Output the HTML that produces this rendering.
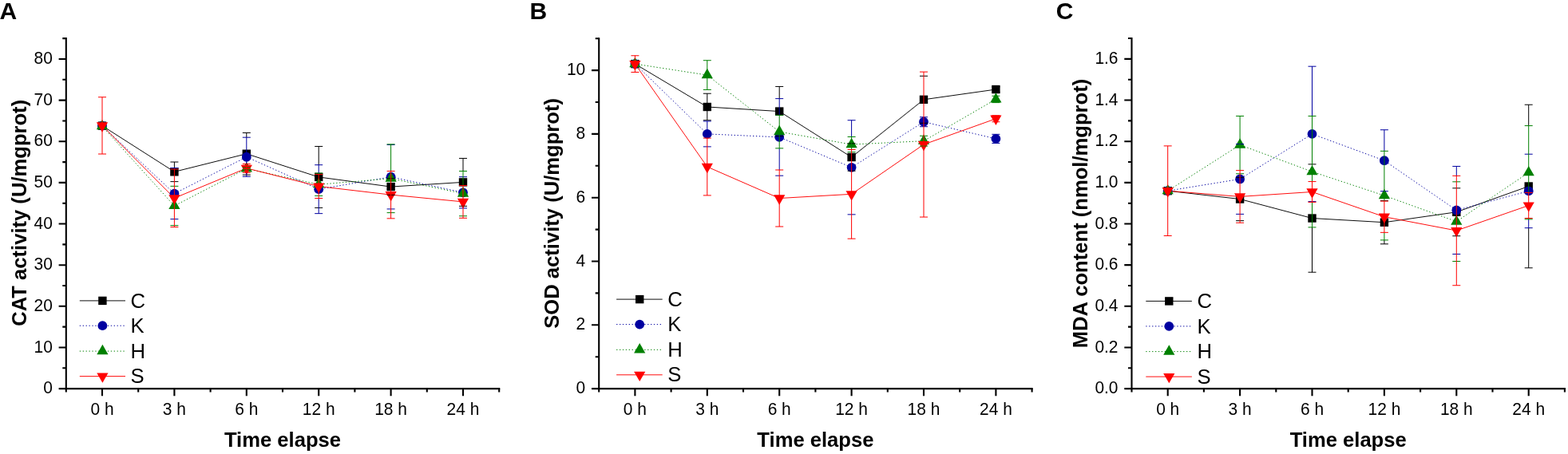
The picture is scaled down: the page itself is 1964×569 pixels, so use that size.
<!DOCTYPE html>
<html><head><meta charset="utf-8"><title>Figure</title>
<style>
html,body{margin:0;padding:0;background:#fff;}
svg{display:block;}
text{font-family:"Liberation Sans",Arial,sans-serif;fill:#000;}
.tl{font-size:22.3px;}
.tt{font-size:25.6px;font-weight:bold;}
.pl{font-size:30px;font-weight:bold;}
.lg{font-size:25.7px;}
</style></head><body>
<svg width="1964" height="569" viewBox="0 0 1964 569">
<rect width="1964" height="569" fill="#fff"/>
<g>
<text class="pl" x="-0.6" y="23.8">A</text>
<g stroke="#000" stroke-width="2.1" stroke-linecap="square" fill="none">
<path d="M82.8 48.16V487.1H625.2"/>
<path stroke-linecap="butt" d="M82.8 487.1H73.6M82.8 461.28H78.3M82.8 435.46H73.6M82.8 409.64H78.3M82.8 383.82H73.6M82.8 358H78.3M82.8 332.18H73.6M82.8 306.36H78.3M82.8 280.54H73.6M82.8 254.72H78.3M82.8 228.9H73.6M82.8 203.08H78.3M82.8 177.26H73.6M82.8 151.44H78.3M82.8 125.62H73.6M82.8 99.8H78.3M82.8 73.98H73.6M82.8 48.16H78.3M82.8 487.1V491.6M173.2 487.1V491.6M263.6 487.1V491.6M354 487.1V491.6M444.4 487.1V491.6M534.8 487.1V491.6M625.2 487.1V491.6M128 487.1V496.3M218.4 487.1V496.3M308.8 487.1V496.3M399.2 487.1V496.3M489.6 487.1V496.3M580 487.1V496.3"/>
</g>
<text class="tl" transform="translate(65.8 493.2) scale(0.94 1)" text-anchor="end">0</text>
<text class="tl" transform="translate(65.8 441.56) scale(0.94 1)" text-anchor="end">10</text>
<text class="tl" transform="translate(65.8 389.92) scale(0.94 1)" text-anchor="end">20</text>
<text class="tl" transform="translate(65.8 338.28) scale(0.94 1)" text-anchor="end">30</text>
<text class="tl" transform="translate(65.8 286.64) scale(0.94 1)" text-anchor="end">40</text>
<text class="tl" transform="translate(65.8 235) scale(0.94 1)" text-anchor="end">50</text>
<text class="tl" transform="translate(65.8 183.36) scale(0.94 1)" text-anchor="end">60</text>
<text class="tl" transform="translate(65.8 131.72) scale(0.94 1)" text-anchor="end">70</text>
<text class="tl" transform="translate(65.8 80.08) scale(0.94 1)" text-anchor="end">80</text>
<text class="tl" transform="translate(128 519.6) scale(0.94 1)" text-anchor="middle">0 h</text>
<text class="tl" transform="translate(218.4 519.6) scale(0.94 1)" text-anchor="middle">3 h</text>
<text class="tl" transform="translate(308.8 519.6) scale(0.94 1)" text-anchor="middle">6 h</text>
<text class="tl" transform="translate(399.2 519.6) scale(0.94 1)" text-anchor="middle">12 h</text>
<text class="tl" transform="translate(489.6 519.6) scale(0.94 1)" text-anchor="middle">18 h</text>
<text class="tl" transform="translate(580 519.6) scale(0.94 1)" text-anchor="middle">24 h</text>
<text class="tt" x="354" y="560.2" text-anchor="middle">Time elapse</text>
<text class="tt" text-anchor="middle" transform="translate(33.2 266.8) rotate(-90)">CAT activity (U/mgprot)</text>
<polyline points="128,157.64 218.4,215.32 308.8,192.75 399.2,221.93 489.6,234.06 580,228.38" stroke="#000000" stroke-width="0.95" fill="none"/>
<polyline points="128,157.64 218.4,242.58 308.8,196.73 399.2,237.16 489.6,221.67 580,241.29" stroke="#0000a0" stroke-width="1" stroke-dasharray="1.3 2.6" fill="none"/>
<polyline points="128,158.15 218.4,257.97 308.8,211.34 399.2,231.22 489.6,223.74 580,242.58" stroke="#008000" stroke-width="1" stroke-dasharray="1.3 2.6" fill="none"/>
<polyline points="128,157.38 218.4,248.27 308.8,210.83 399.2,233.55 489.6,244.13 580,252.91" stroke="#ff0000" stroke-width="0.95" fill="none"/>
<rect x="122.8" y="152.44" width="10.4" height="10.4" fill="#000000"/>
<rect x="213.2" y="210.12" width="10.4" height="10.4" fill="#000000"/>
<rect x="303.6" y="187.55" width="10.4" height="10.4" fill="#000000"/>
<rect x="394" y="216.73" width="10.4" height="10.4" fill="#000000"/>
<rect x="484.4" y="228.86" width="10.4" height="10.4" fill="#000000"/>
<rect x="574.8" y="223.18" width="10.4" height="10.4" fill="#000000"/>
<circle cx="128" cy="157.64" r="5.9" fill="#0000a0"/>
<circle cx="218.4" cy="242.58" r="5.9" fill="#0000a0"/>
<circle cx="308.8" cy="196.73" r="5.9" fill="#0000a0"/>
<circle cx="399.2" cy="237.16" r="5.9" fill="#0000a0"/>
<circle cx="489.6" cy="221.67" r="5.9" fill="#0000a0"/>
<circle cx="580" cy="241.29" r="5.9" fill="#0000a0"/>
<polygon points="128,149.89 135.1,162.29 120.9,162.29" fill="#008000"/>
<polygon points="218.4,249.71 225.5,262.11 211.3,262.11" fill="#008000"/>
<polygon points="308.8,203.08 315.9,215.48 301.7,215.48" fill="#008000"/>
<polygon points="399.2,222.96 406.3,235.36 392.1,235.36" fill="#008000"/>
<polygon points="489.6,215.47 496.7,227.87 482.5,227.87" fill="#008000"/>
<polygon points="580,234.32 587.1,246.72 572.9,246.72" fill="#008000"/>
<polygon points="120.9,153.25 135.1,153.25 128,165.65" fill="#ff0000"/>
<polygon points="211.3,244.13 225.5,244.13 218.4,256.53" fill="#ff0000"/>
<polygon points="301.7,206.69 315.9,206.69 308.8,219.09" fill="#ff0000"/>
<polygon points="392.1,229.41 406.3,229.41 399.2,241.81" fill="#ff0000"/>
<polygon points="482.5,240 496.7,240 489.6,252.4" fill="#ff0000"/>
<polygon points="572.9,248.78 587.1,248.78 580,261.18" fill="#ff0000"/>
<path d="M218.4 203.03V210.57M213.4 203.03H223.4M213.4 227.61H223.4M308.8 166.42V172.2M303.8 166.42H313.8M303.8 219.09H313.8M399.2 183.46V206.69M394.2 183.46H404.2M394.2 260.4H404.2M484.6 223.74H494.6M484.6 244.39H494.6M580 198.43V214.44M575 198.43H585M575 258.33H585" stroke="#000000" stroke-width="1.0" fill="none"/>
<path d="M218.4 210.57V211.96M213.4 210.57H223.4M213.4 274.6H223.4M308.8 172.2V205.4M308.8 216.25V221.26M303.8 172.2H313.8M303.8 221.26H313.8M399.2 206.69V217.02M399.2 248.52V267.63M394.2 206.69H404.2M394.2 267.63H404.2M484.6 181.39H494.6M484.6 261.95H494.6M575 221.67H585M575 260.92H585" stroke="#0000a0" stroke-width="1.0" fill="none"/>
<path d="M213.4 233.34H223.4M213.4 282.61H223.4M303.8 209.95H313.8M303.8 212.74H313.8M399.2 217.02V218.57M394.2 217.02H404.2M394.2 245.42H404.2M489.6 180.87V214.44M484.6 180.87H494.6M484.6 266.6H494.6M580 214.44V232.51M575 214.44H585M575 270.73H585" stroke="#008000" stroke-width="1.0" fill="none"/>
<path d="M128 121.75V193.01M123 121.75H133M123 193.01H133M218.4 211.96V284.57M213.4 211.96H223.4M213.4 284.57H223.4M308.8 205.4V216.25M303.8 205.4H313.8M303.8 216.25H313.8M399.2 218.57V248.52M394.2 218.57H404.2M394.2 248.52H404.2M489.6 214.44V273.83M484.6 214.44H494.6M484.6 273.83H494.6M580 232.51V273.31M575 232.51H585M575 273.31H585" stroke="#ff0000" stroke-width="1.0" fill="none"/>
<line x1="99.8" y1="376.9" x2="157" y2="376.9" stroke="#000000" stroke-width="0.95" fill="none"/>
<rect x="123.2" y="371.7" width="10.4" height="10.4" fill="#000000"/>
<text class="lg" x="163.5" y="385.5">C</text>
<line x1="99.8" y1="408.2" x2="157" y2="408.2" stroke="#0000a0" stroke-width="1" stroke-dasharray="1.3 2.6" fill="none"/>
<circle cx="128.4" cy="408.2" r="5.9" fill="#0000a0"/>
<text class="lg" x="163.5" y="416.8">K</text>
<line x1="99.8" y1="440.1" x2="157" y2="440.1" stroke="#008000" stroke-width="1" stroke-dasharray="1.3 2.6" fill="none"/>
<polygon points="128.4,431.83 135.5,444.23 121.3,444.23" fill="#008000"/>
<text class="lg" x="163.5" y="448.7">H</text>
<line x1="99.8" y1="471.6" x2="157" y2="471.6" stroke="#ff0000" stroke-width="0.95" fill="none"/>
<polygon points="121.3,467.47 135.5,467.47 128.4,479.87" fill="#ff0000"/>
<text class="lg" x="163.5" y="480.2">S</text>
</g>
<g>
<text class="pl" x="663.4" y="23.8">B</text>
<g stroke="#000" stroke-width="2.1" stroke-linecap="square" fill="none">
<path d="M750.2 48.2V487.1H1292.6"/>
<path stroke-linecap="butt" d="M750.2 487.1H741M750.2 447.2H745.7M750.2 407.3H741M750.2 367.4H745.7M750.2 327.5H741M750.2 287.6H745.7M750.2 247.7H741M750.2 207.8H745.7M750.2 167.9H741M750.2 128H745.7M750.2 88.1H741M750.2 48.2H745.7M750.2 487.1V491.6M840.6 487.1V491.6M931 487.1V491.6M1021.4 487.1V491.6M1111.8 487.1V491.6M1202.2 487.1V491.6M1292.6 487.1V491.6M795.4 487.1V496.3M885.8 487.1V496.3M976.2 487.1V496.3M1066.6 487.1V496.3M1157 487.1V496.3M1247.4 487.1V496.3"/>
</g>
<text class="tl" transform="translate(733.2 493.2) scale(0.94 1)" text-anchor="end">0</text>
<text class="tl" transform="translate(733.2 413.4) scale(0.94 1)" text-anchor="end">2</text>
<text class="tl" transform="translate(733.2 333.6) scale(0.94 1)" text-anchor="end">4</text>
<text class="tl" transform="translate(733.2 253.8) scale(0.94 1)" text-anchor="end">6</text>
<text class="tl" transform="translate(733.2 174) scale(0.94 1)" text-anchor="end">8</text>
<text class="tl" transform="translate(733.2 94.2) scale(0.94 1)" text-anchor="end">10</text>
<text class="tl" transform="translate(795.4 519.6) scale(0.94 1)" text-anchor="middle">0 h</text>
<text class="tl" transform="translate(885.8 519.6) scale(0.94 1)" text-anchor="middle">3 h</text>
<text class="tl" transform="translate(976.2 519.6) scale(0.94 1)" text-anchor="middle">6 h</text>
<text class="tl" transform="translate(1066.6 519.6) scale(0.94 1)" text-anchor="middle">12 h</text>
<text class="tl" transform="translate(1157 519.6) scale(0.94 1)" text-anchor="middle">18 h</text>
<text class="tl" transform="translate(1247.4 519.6) scale(0.94 1)" text-anchor="middle">24 h</text>
<text class="tt" x="1021.4" y="560.2" text-anchor="middle">Time elapse</text>
<text class="tt" text-anchor="middle" transform="translate(700.4 267.4) rotate(-90)">SOD activity (U/mgprot)</text>
<polyline points="795.4,80.12 885.8,133.99 976.2,139.57 1066.6,197.03 1157,124.81 1247.4,112.04" stroke="#000000" stroke-width="0.95" fill="none"/>
<polyline points="795.4,80.12 885.8,167.9 976.2,171.89 1066.6,209.8 1157,152.74 1247.4,173.89" stroke="#0000a0" stroke-width="1" stroke-dasharray="1.3 2.6" fill="none"/>
<polyline points="795.4,80.12 885.8,94.09 976.2,165.11 1066.6,181.07 1157,176.68 1247.4,124.41" stroke="#008000" stroke-width="1" stroke-dasharray="1.3 2.6" fill="none"/>
<polyline points="795.4,80.12 885.8,209 976.2,248.5 1066.6,243.31 1157,181.07 1247.4,148.75" stroke="#ff0000" stroke-width="0.95" fill="none"/>
<rect x="790.2" y="74.92" width="10.4" height="10.4" fill="#000000"/>
<rect x="880.6" y="128.79" width="10.4" height="10.4" fill="#000000"/>
<rect x="971" y="134.37" width="10.4" height="10.4" fill="#000000"/>
<rect x="1061.4" y="191.83" width="10.4" height="10.4" fill="#000000"/>
<rect x="1151.8" y="119.61" width="10.4" height="10.4" fill="#000000"/>
<rect x="1242.2" y="106.84" width="10.4" height="10.4" fill="#000000"/>
<circle cx="795.4" cy="80.12" r="5.9" fill="#0000a0"/>
<circle cx="885.8" cy="167.9" r="5.9" fill="#0000a0"/>
<circle cx="976.2" cy="171.89" r="5.9" fill="#0000a0"/>
<circle cx="1066.6" cy="209.8" r="5.9" fill="#0000a0"/>
<circle cx="1157" cy="152.74" r="5.9" fill="#0000a0"/>
<circle cx="1247.4" cy="173.89" r="5.9" fill="#0000a0"/>
<polygon points="795.4,71.85 802.5,84.25 788.3,84.25" fill="#008000"/>
<polygon points="885.8,85.82 892.9,98.22 878.7,98.22" fill="#008000"/>
<polygon points="976.2,156.84 983.3,169.24 969.1,169.24" fill="#008000"/>
<polygon points="1066.6,172.8 1073.7,185.2 1059.5,185.2" fill="#008000"/>
<polygon points="1157,168.41 1164.1,180.81 1149.9,180.81" fill="#008000"/>
<polygon points="1247.4,116.14 1254.5,128.54 1240.3,128.54" fill="#008000"/>
<polygon points="788.3,75.99 802.5,75.99 795.4,88.39" fill="#ff0000"/>
<polygon points="878.7,204.86 892.9,204.86 885.8,217.26" fill="#ff0000"/>
<polygon points="969.1,244.36 983.3,244.36 976.2,256.76" fill="#ff0000"/>
<polygon points="1059.5,239.18 1073.7,239.18 1066.6,251.58" fill="#ff0000"/>
<polygon points="1149.9,176.93 1164.1,176.93 1157,189.33" fill="#ff0000"/>
<polygon points="1240.3,144.61 1254.5,144.61 1247.4,157.01" fill="#ff0000"/>
<path d="M885.8 117.23V150.74M880.8 117.23H890.8M880.8 150.74H890.8M976.2 108.45V123.61M971.2 108.45H981.2M971.2 170.69H981.2M1061.6 179.87H1071.6M1061.6 214.18H1071.6M1152 95.28H1162M1152 154.33H1162M1247.4 108.85V115.23M1242.4 108.85H1252.4M1242.4 115.23H1252.4" stroke="#000000" stroke-width="1.0" fill="none"/>
<path d="M885.8 151.94V173.09M880.8 151.94H890.8M880.8 183.86H890.8M976.2 123.61V144.36M976.2 185.86V212.99M971.2 123.61H981.2M971.2 220.17H981.2M1066.6 150.74V171.49M1061.6 150.74H1071.6M1061.6 268.85H1071.6M1152 146.75H1162M1152 158.72H1162M1247.4 168.3V179.47M1242.4 168.3H1252.4M1242.4 179.47H1252.4" stroke="#0000a0" stroke-width="1.0" fill="none"/>
<path d="M885.8 75.73V112.44M880.8 75.73H890.8M880.8 112.44H890.8M976.2 144.36V185.86M971.2 144.36H981.2M971.2 185.86H981.2M1066.6 171.49V187.45M1061.6 171.49H1071.6M1061.6 190.64H1071.6M1152 170.29H1162M1152 183.06H1162M1247.4 120.22V128.6M1242.4 120.22H1252.4M1242.4 128.6H1252.4" stroke="#008000" stroke-width="1.0" fill="none"/>
<path d="M795.4 69.75V90.49M790.4 69.75H800.4M790.4 90.49H800.4M885.8 173.09V244.91M880.8 173.09H890.8M880.8 244.91H890.8M976.2 212.99V284.01M971.2 212.99H981.2M971.2 284.01H981.2M1066.6 187.45V299.17M1061.6 187.45H1071.6M1061.6 299.17H1071.6M1157 90.1V272.04M1152 90.1H1162M1152 272.04H1162M1247.4 144.76V152.74M1242.4 144.76H1252.4M1242.4 152.74H1252.4" stroke="#ff0000" stroke-width="1.0" fill="none"/>
<line x1="772.1" y1="375.1" x2="829.7" y2="375.1" stroke="#000000" stroke-width="0.95" fill="none"/>
<rect x="796" y="369.9" width="10.4" height="10.4" fill="#000000"/>
<text class="lg" x="836.2" y="383.7">C</text>
<line x1="772.1" y1="406.6" x2="829.7" y2="406.6" stroke="#0000a0" stroke-width="1" stroke-dasharray="1.3 2.6" fill="none"/>
<circle cx="801.2" cy="406.6" r="5.9" fill="#0000a0"/>
<text class="lg" x="836.2" y="415.2">K</text>
<line x1="772.1" y1="438.3" x2="829.7" y2="438.3" stroke="#008000" stroke-width="1" stroke-dasharray="1.3 2.6" fill="none"/>
<polygon points="801.2,430.03 808.3,442.43 794.1,442.43" fill="#008000"/>
<text class="lg" x="836.2" y="446.9">H</text>
<line x1="772.1" y1="469.8" x2="829.7" y2="469.8" stroke="#ff0000" stroke-width="0.95" fill="none"/>
<polygon points="794.1,465.67 808.3,465.67 801.2,478.07" fill="#ff0000"/>
<text class="lg" x="836.2" y="478.4">S</text>
</g>
<g>
<text class="pl" x="1322.7" y="23.8">C</text>
<g stroke="#000" stroke-width="2.1" stroke-linecap="square" fill="none">
<path d="M1417.5 48.08V487.1H1959.9"/>
<path stroke-linecap="butt" d="M1417.5 487.1H1408.3M1417.5 461.28H1413M1417.5 435.45H1408.3M1417.5 409.62H1413M1417.5 383.8H1408.3M1417.5 357.98H1413M1417.5 332.15H1408.3M1417.5 306.33H1413M1417.5 280.5H1408.3M1417.5 254.68H1413M1417.5 228.85H1408.3M1417.5 203.02H1413M1417.5 177.2H1408.3M1417.5 151.38H1413M1417.5 125.55H1408.3M1417.5 99.73H1413M1417.5 73.9H1408.3M1417.5 48.07H1413M1417.5 487.1V491.6M1507.9 487.1V491.6M1598.3 487.1V491.6M1688.7 487.1V491.6M1779.1 487.1V491.6M1869.5 487.1V491.6M1959.9 487.1V491.6M1462.7 487.1V496.3M1553.1 487.1V496.3M1643.5 487.1V496.3M1733.9 487.1V496.3M1824.3 487.1V496.3M1914.7 487.1V496.3"/>
</g>
<text class="tl" transform="translate(1400.5 493.2) scale(0.94 1)" text-anchor="end">0.0</text>
<text class="tl" transform="translate(1400.5 441.55) scale(0.94 1)" text-anchor="end">0.2</text>
<text class="tl" transform="translate(1400.5 389.9) scale(0.94 1)" text-anchor="end">0.4</text>
<text class="tl" transform="translate(1400.5 338.25) scale(0.94 1)" text-anchor="end">0.6</text>
<text class="tl" transform="translate(1400.5 286.6) scale(0.94 1)" text-anchor="end">0.8</text>
<text class="tl" transform="translate(1400.5 234.95) scale(0.94 1)" text-anchor="end">1.0</text>
<text class="tl" transform="translate(1400.5 183.3) scale(0.94 1)" text-anchor="end">1.2</text>
<text class="tl" transform="translate(1400.5 131.65) scale(0.94 1)" text-anchor="end">1.4</text>
<text class="tl" transform="translate(1400.5 80) scale(0.94 1)" text-anchor="end">1.6</text>
<text class="tl" transform="translate(1462.7 519.6) scale(0.94 1)" text-anchor="middle">0 h</text>
<text class="tl" transform="translate(1553.1 519.6) scale(0.94 1)" text-anchor="middle">3 h</text>
<text class="tl" transform="translate(1643.5 519.6) scale(0.94 1)" text-anchor="middle">6 h</text>
<text class="tl" transform="translate(1733.9 519.6) scale(0.94 1)" text-anchor="middle">12 h</text>
<text class="tl" transform="translate(1824.3 519.6) scale(0.94 1)" text-anchor="middle">18 h</text>
<text class="tl" transform="translate(1914.7 519.6) scale(0.94 1)" text-anchor="middle">24 h</text>
<text class="tt" x="1688.7" y="560.2" text-anchor="middle">Time elapse</text>
<text class="tt" text-anchor="middle" transform="translate(1361.8 267.5) rotate(-90)">MDA content (nmol/mgprot)</text>
<polyline points="1462.7,239.18 1553.1,249.51 1643.5,273.53 1733.9,278.69 1824.3,265.78 1914.7,233.5" stroke="#000000" stroke-width="0.95" fill="none"/>
<polyline points="1462.7,239.18 1553.1,224.46 1643.5,167.9 1733.9,201.22 1824.3,263.46 1914.7,239.44" stroke="#0000a0" stroke-width="1" stroke-dasharray="1.3 2.6" fill="none"/>
<polyline points="1462.7,239.18 1553.1,181.59 1643.5,215.16 1733.9,245.12 1824.3,277.66 1914.7,216.2" stroke="#008000" stroke-width="1" stroke-dasharray="1.3 2.6" fill="none"/>
<polyline points="1462.7,239.18 1553.1,246.41 1643.5,240.47 1733.9,271.72 1824.3,289.02 1914.7,257.52" stroke="#ff0000" stroke-width="0.95" fill="none"/>
<rect x="1457.5" y="233.98" width="10.4" height="10.4" fill="#000000"/>
<rect x="1547.9" y="244.31" width="10.4" height="10.4" fill="#000000"/>
<rect x="1638.3" y="268.33" width="10.4" height="10.4" fill="#000000"/>
<rect x="1728.7" y="273.49" width="10.4" height="10.4" fill="#000000"/>
<rect x="1819.1" y="260.58" width="10.4" height="10.4" fill="#000000"/>
<rect x="1909.5" y="228.3" width="10.4" height="10.4" fill="#000000"/>
<circle cx="1462.7" cy="239.18" r="5.9" fill="#0000a0"/>
<circle cx="1553.1" cy="224.46" r="5.9" fill="#0000a0"/>
<circle cx="1643.5" cy="167.9" r="5.9" fill="#0000a0"/>
<circle cx="1733.9" cy="201.22" r="5.9" fill="#0000a0"/>
<circle cx="1824.3" cy="263.46" r="5.9" fill="#0000a0"/>
<circle cx="1914.7" cy="239.44" r="5.9" fill="#0000a0"/>
<polygon points="1462.7,230.91 1469.8,243.31 1455.6,243.31" fill="#008000"/>
<polygon points="1553.1,173.32 1560.2,185.72 1546,185.72" fill="#008000"/>
<polygon points="1643.5,206.9 1650.6,219.3 1636.4,219.3" fill="#008000"/>
<polygon points="1733.9,236.85 1741,249.25 1726.8,249.25" fill="#008000"/>
<polygon points="1824.3,269.39 1831.4,281.79 1817.2,281.79" fill="#008000"/>
<polygon points="1914.7,207.93 1921.8,220.33 1907.6,220.33" fill="#008000"/>
<polygon points="1455.6,235.05 1469.8,235.05 1462.7,247.45" fill="#ff0000"/>
<polygon points="1546,242.28 1560.2,242.28 1553.1,254.68" fill="#ff0000"/>
<polygon points="1636.4,236.34 1650.6,236.34 1643.5,248.74" fill="#ff0000"/>
<polygon points="1726.8,267.59 1741,267.59 1733.9,279.99" fill="#ff0000"/>
<polygon points="1817.2,284.89 1831.4,284.89 1824.3,297.29" fill="#ff0000"/>
<polygon points="1907.6,253.38 1921.8,253.38 1914.7,265.78" fill="#ff0000"/>
<path d="M1548.1 222.39H1558.1M1548.1 276.63H1558.1M1643.5 284.89V341.19M1638.5 205.87H1648.5M1638.5 341.19H1648.5M1733.9 300.9V305.81M1728.9 251.58H1738.9M1728.9 305.81H1738.9M1819.3 235.82H1829.3M1819.3 295.74H1829.3M1914.7 131.23V157.57M1914.7 285.67V335.77M1909.7 131.23H1919.7M1909.7 335.77H1919.7" stroke="#000000" stroke-width="1.0" fill="none"/>
<path d="M1548.1 180.56H1558.1M1548.1 268.36H1558.1M1643.5 83.2V145.44M1638.5 83.2H1648.5M1638.5 252.61H1648.5M1733.9 162.74V189.34M1728.9 162.74H1738.9M1728.9 239.7H1738.9M1824.3 208.45V220.33M1819.3 208.45H1829.3M1819.3 318.46H1829.3M1914.7 274.82V285.67M1909.7 193.21H1919.7M1909.7 285.67H1919.7" stroke="#0000a0" stroke-width="1.0" fill="none"/>
<path d="M1553.1 145.44V213.61M1548.1 145.44H1558.1M1548.1 217.75H1558.1M1643.5 145.44V227.56M1643.5 253.38V284.89M1638.5 145.44H1648.5M1638.5 284.89H1648.5M1733.9 189.34V252.09M1733.9 291.35V300.9M1728.9 189.34H1738.9M1728.9 300.9H1738.9M1819.3 227.82H1829.3M1819.3 327.5H1829.3M1914.7 157.57V241.5M1914.7 273.53V274.82M1909.7 157.57H1919.7M1909.7 274.82H1919.7" stroke="#008000" stroke-width="1.0" fill="none"/>
<path d="M1462.7 182.88V295.48M1457.7 182.88H1467.7M1457.7 295.48H1467.7M1553.1 213.61V279.21M1548.1 213.61H1558.1M1548.1 279.21H1558.1M1643.5 227.56V253.38M1638.5 227.56H1648.5M1638.5 253.38H1648.5M1733.9 252.09V291.35M1728.9 252.09H1738.9M1728.9 291.35H1738.9M1824.3 220.33V357.72M1819.3 220.33H1829.3M1819.3 357.72H1829.3M1914.7 241.5V273.53M1909.7 241.5H1919.7M1909.7 273.53H1919.7" stroke="#ff0000" stroke-width="1.0" fill="none"/>
<line x1="1435.3" y1="377.4" x2="1492.9" y2="377.4" stroke="#000000" stroke-width="0.95" fill="none"/>
<rect x="1459.1" y="372.2" width="10.4" height="10.4" fill="#000000"/>
<text class="lg" x="1499.4" y="386">C</text>
<line x1="1435.3" y1="408.9" x2="1492.9" y2="408.9" stroke="#0000a0" stroke-width="1" stroke-dasharray="1.3 2.6" fill="none"/>
<circle cx="1464.3" cy="408.9" r="5.9" fill="#0000a0"/>
<text class="lg" x="1499.4" y="417.5">K</text>
<line x1="1435.3" y1="440.6" x2="1492.9" y2="440.6" stroke="#008000" stroke-width="1" stroke-dasharray="1.3 2.6" fill="none"/>
<polygon points="1464.3,432.33 1471.4,444.73 1457.2,444.73" fill="#008000"/>
<text class="lg" x="1499.4" y="449.2">H</text>
<line x1="1435.3" y1="472.1" x2="1492.9" y2="472.1" stroke="#ff0000" stroke-width="0.95" fill="none"/>
<polygon points="1457.2,467.97 1471.4,467.97 1464.3,480.37" fill="#ff0000"/>
<text class="lg" x="1499.4" y="480.7">S</text>
</g>
</svg>
</body></html>
